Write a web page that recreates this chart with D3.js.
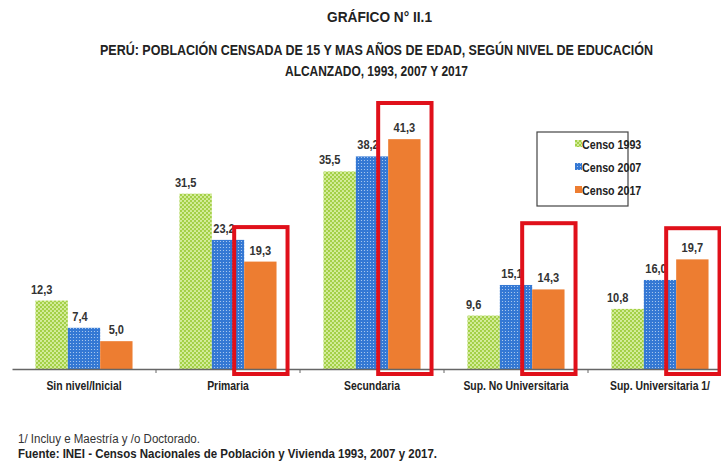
<!DOCTYPE html>
<html>
<head>
<meta charset="utf-8">
<script src="https://cdn.jsdelivr.net/npm/d3@7"></script>
<style>
  body { margin: 0; background: #fff; }
  text { font-family: "Liberation Sans Narrow", "Arial Narrow", "Liberation Sans", Arial, sans-serif; }
</style>
</head>
<body>
<svg id="chart"></svg>
<script>
// data
const categories = ["Sin nivel/Inicial", "Primaria", "Secundaria", "Sup. No Universitaria", "Sup. Universitaria 1/"];
const series = ["Censo 1993", "Censo 2007", "Censo 2017"];
const censo1993 = [12.3, 31.5, 35.5, 9.6, 10.8];
const censo2007 = [7.4, 23.2, 38.2, 15.1, 16.0];
const censo2017 = [5.0, 19.3, 41.3, 14.3, 19.7];
// red highlight boxes round the 2017 bars (top given in chart units)
const highlightCats = ["Primaria", "Secundaria", "Sup. No Universitaria", "Sup. Universitaria 1/"];
const highlightTops = [25.5, 47.8, 26.2, 25.3];

const values = [censo1993, censo2007, censo2017];

const width = 721, height = 464;
const svg = d3.select("#chart").attr("width", width).attr("height", height);
svg.append("rect").attr("width", width).attr("height", height).attr("fill", "#fff");

// squeeze text horizontally, the original uses a narrow font
function squeeze(sel, factor) {
  sel.each(function() {
    const w = this.getComputedTextLength();
    d3.select(this).attr("textLength", w * factor).attr("lengthAdjust", "spacingAndGlyphs");
  });
}
function fitTo(sel, w) {
  sel.attr("textLength", w).attr("lengthAdjust", "spacingAndGlyphs");
}

// patterns for the two older censuses
const defs = svg.append("defs");
const pGreen = defs.append("pattern")
  .attr("id", "pat1993").attr("patternUnits", "userSpaceOnUse")
  .attr("width", 4).attr("height", 4);
pGreen.append("rect").attr("width", 4).attr("height", 4).attr("fill", "#a3d046");
pGreen.append("circle").attr("cx", 1).attr("cy", 1).attr("r", 1.1).attr("fill", "#d9efa3");
pGreen.append("circle").attr("cx", 3).attr("cy", 3).attr("r", 1.1).attr("fill", "#d9efa3");

const pBlue = defs.append("pattern")
  .attr("id", "pat2007").attr("patternUnits", "userSpaceOnUse")
  .attr("width", 3).attr("height", 3);
pBlue.append("rect").attr("width", 3).attr("height", 3).attr("fill", "#3478d4");
pBlue.append("circle").attr("cx", 1.5).attr("cy", 1.5).attr("r", 0.6).attr("fill", "#b9d3f3");

const fills = ["url(#pat1993)", "url(#pat2007)", "#ed7d31"];
const labelShift = [-10, -4, 0];

// scales
const x = d3.scaleBand().domain(categories).range([12, 732]);
const x1 = d3.scaleBand().domain(series)
  .range([x.bandwidth() * 0.163, x.bandwidth() * 0.837]);
const y = d3.scaleLinear().domain([0, 50]).range([369, 90.75]);

// titles
fitTo(svg.append("text").attr("x", 327).attr("y", 22)
  .attr("font-weight", "bold").attr("font-size", 14)
  .attr("fill", "#222").text("GRÁFICO  N° II.1"), 105);
fitTo(svg.append("text").attr("x", 100).attr("y", 55)
  .attr("font-weight", "bold").attr("font-size", 14)
  .attr("fill", "#222")
  .text("PERÚ: POBLACIÓN CENSADA DE 15 Y MAS AÑOS DE EDAD, SEGÚN NIVEL DE EDUCACIÓN"), 553);
fitTo(svg.append("text").attr("x", 285).attr("y", 76)
  .attr("font-weight", "bold").attr("font-size", 14)
  .attr("fill", "#222").text("ALCANZADO, 1993, 2007 Y 2017"), 183);

// bars
const groups = svg.selectAll(".grp")
  .data(categories)
  .enter()
  .append("g")
  .attr("class", "grp")
  .attr("transform", d => `translate(${x(d)},0)`);

series.forEach((s, si) => {
  groups.append("rect")
    .attr("x", x1(s))
    .attr("y", (d, i) => y(values[si][i]))
    .attr("width", x1.bandwidth())
    .attr("height", (d, i) => y(0) - y(values[si][i]))
    .attr("fill", fills[si]);

  const lab = groups.append("text")
    .attr("x", x1(s) + x1.bandwidth() / 2 + labelShift[si])
    .attr("y", (d, i) => y(values[si][i]) - 7)
    .attr("text-anchor", "middle")
    .attr("font-weight", "bold")
    .attr("font-size", 13)
    .attr("fill", "#333")
    .text((d, i) => values[si][i].toFixed(1).replace(".", ","));
  squeeze(lab, 0.85);
});

// axis
const xAxis = svg.append("g")
  .attr("transform", `translate(0,${y(0)})`)
  .call(d3.axisBottom(x).tickSize(0).tickFormat(""));
xAxis.select(".domain").attr("stroke", "#666").attr("stroke-width", 1.5);
svg.selectAll(".sep")
  .data(categories.slice(1))
  .enter()
  .append("line")
  .attr("x1", d => x(d)).attr("x2", d => x(d))
  .attr("y1", y(0)).attr("y2", y(0) + 4)
  .attr("stroke", "#666");

const catLab = svg.selectAll(".catlab")
  .data(categories)
  .enter()
  .append("text")
  .attr("x", d => x(d) + x.bandwidth() / 2)
  .attr("y", y(0) + 21)
  .attr("text-anchor", "middle")
  .attr("font-weight", "bold")
  .attr("font-size", 13)
  .attr("fill", "#222")
  .text(d => d);
squeeze(catLab, 0.8);

// highlight boxes
const o = x1("Censo 2017");
svg.selectAll(".hl")
  .data(highlightCats)
  .enter()
  .append("rect")
  .attr("x", d => x(d) + o - 10)
  .attr("y", (d, i) => y(highlightTops[i]))
  .attr("width", x1.bandwidth() + 21)
  .attr("height", (d, i) => y(0) + 5 - y(highlightTops[i]))
  .attr("fill", "none")
  .attr("stroke", "#e0101a")
  .attr("stroke-width", 4);

// legend
const legend = svg.append("g").attr("transform", "translate(537,132)");
legend.append("rect").attr("width", 91).attr("height", 74)
  .attr("fill", "#fff").attr("stroke", "#444").attr("stroke-width", 1.2);
series.forEach((s, si) => {
  legend.append("rect").attr("x", 38).attr("y", 8 + si * 23)
    .attr("width", 7).attr("height", 7).attr("fill", fills[si]);
  squeeze(legend.append("text").attr("x", 45).attr("y", 16.5 + si * 23)
    .attr("font-weight", "bold").attr("font-size", 13).attr("fill", "#222").text(s), 0.82);
});

// notes
fitTo(svg.append("text").attr("x", 18).attr("y", 443).attr("font-size", 12.5).attr("fill", "#333")
  .text("1/ Incluy e Maestría y /o Doctorado."), 182);
fitTo(svg.append("text").attr("x", 18).attr("y", 458).attr("font-size", 13).attr("font-weight", "bold")
  .attr("fill", "#222")
  .text("Fuente: INEI - Censos Nacionales de Población y Vivienda 1993, 2007 y 2017."), 419);
</script>
</body>
</html>
